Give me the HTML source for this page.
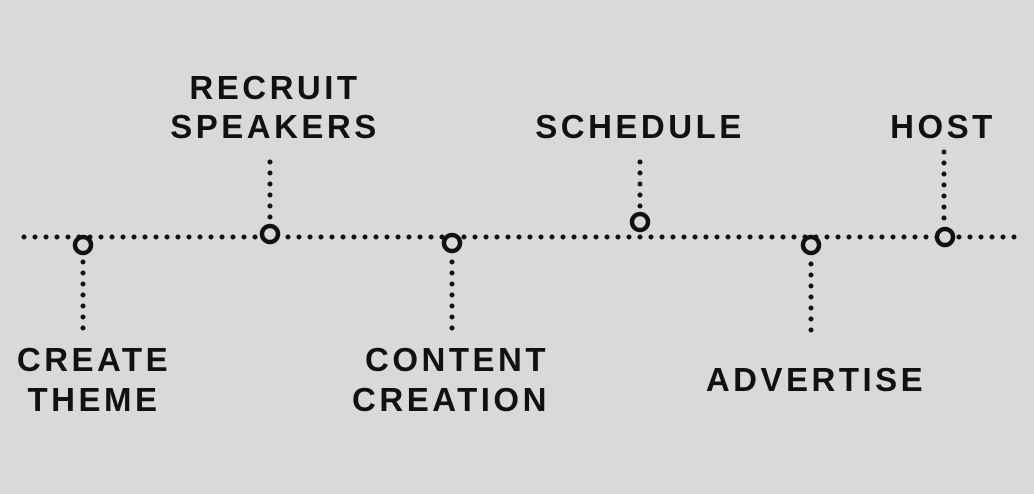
<!DOCTYPE html>
<html><head><style>
html,body{margin:0;padding:0;background:#d9d9d9;}
svg{display:block}
text{font-family:"Liberation Sans",sans-serif;font-weight:bold;font-size:33px;letter-spacing:3.5px;fill:#111;text-anchor:middle}
</style></head><body>
<svg width="1034" height="494" viewBox="0 0 1034 494">
<rect width="1034" height="494" fill="#d9d9d9"/>
<g stroke="#111" stroke-width="5" stroke-linecap="round" stroke-dasharray="0 11" fill="none">
<line x1="24" y1="237" x2="1017" y2="237"/>
<line x1="83" y1="262" x2="83" y2="330"/>
<line x1="270" y1="162" x2="270" y2="226"/>
<line x1="452" y1="262" x2="452" y2="332"/>
<line x1="640" y1="162" x2="640" y2="212"/>
<line x1="811" y1="264" x2="811" y2="338"/>
<line x1="944" y1="152" x2="944" y2="228"/>
</g>
<g stroke="#111" stroke-width="4.5" fill="#d9d9d9">
<circle cx="83" cy="245" r="8"/>
<circle cx="270" cy="234" r="8"/>
<circle cx="452" cy="243" r="8"/>
<circle cx="640" cy="222" r="8"/>
<circle cx="811" cy="245" r="8"/>
<circle cx="945" cy="237" r="8"/>
</g>
<text x="275" y="99">RECRUIT</text>
<text x="275" y="138">SPEAKERS</text>
<text x="640" y="138">SCHEDULE</text>
<text x="943" y="138">HOST</text>
<text x="94" y="371">CREATE</text>
<text x="94" y="411">THEME</text>
<text x="457" y="371">CONTENT</text>
<text x="451" y="411">CREATION</text>
<text x="816" y="391">ADVERTISE</text>
</svg>
</body></html>
